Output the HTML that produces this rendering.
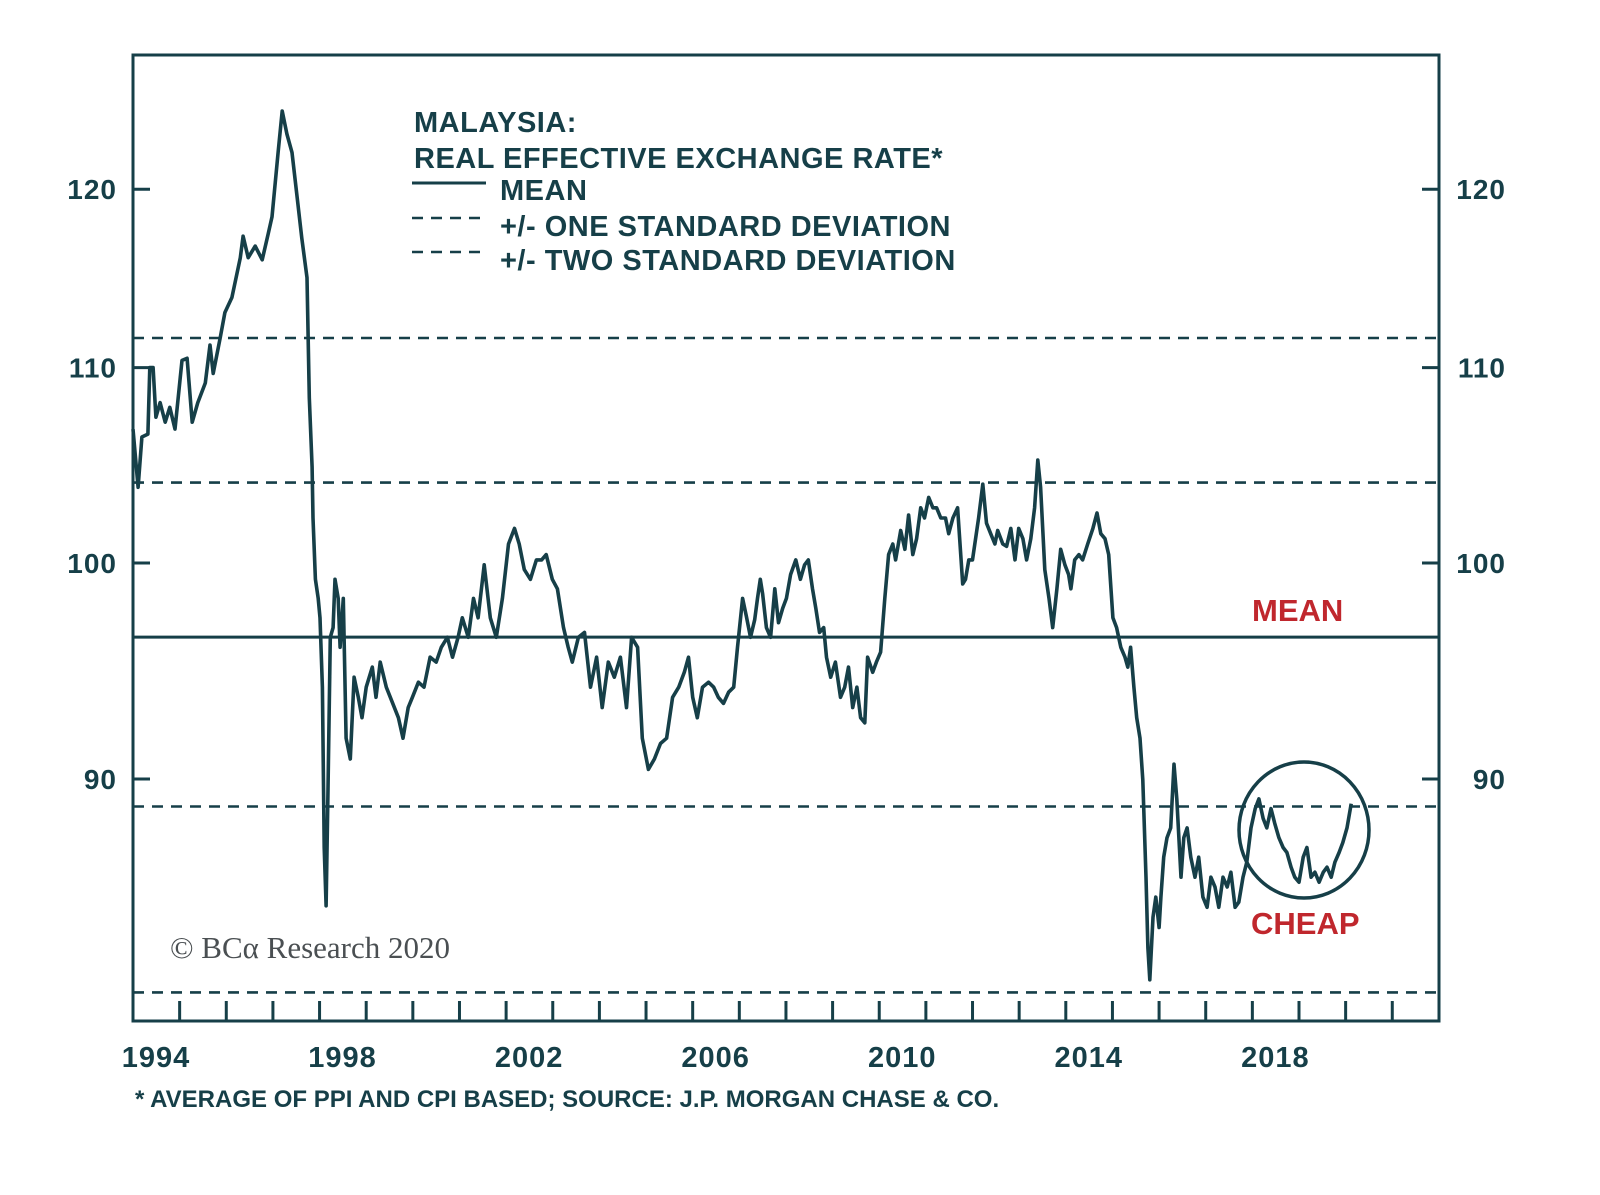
<!DOCTYPE html>
<html><head><meta charset="utf-8"><style>
html,body{margin:0;padding:0;background:#fff;}
svg{display:block;}
</style></head><body>
<svg id="chart" width="1600" height="1195" viewBox="0 0 1600 1195" xmlns="http://www.w3.org/2000/svg">
<g id="grid"></g>
<g id="series"></g>
<g id="axes"></g>
<g font-family="Liberation Sans, sans-serif" font-weight="bold" fill="#163f48" font-size="29" letter-spacing="0.5">
<text x="414" y="132">MALAYSIA:</text>
<text x="414" y="168">REAL EFFECTIVE EXCHANGE RATE*</text>
<line x1="412" x2="486" y1="183" y2="183" stroke="#163f48" stroke-width="3"/>
<text x="500" y="200">MEAN</text>
<line x1="412" x2="486" y1="218" y2="218" stroke="#163f48" stroke-width="2.6" stroke-dasharray="11 8"/>
<text x="500" y="236">+/- ONE STANDARD DEVIATION</text>
<line x1="412" x2="486" y1="252" y2="252" stroke="#163f48" stroke-width="2.6" stroke-dasharray="11 8"/>
<text x="500" y="270">+/- TWO STANDARD DEVIATION</text>
</g>
<text x="1252" y="621" font-family="Liberation Sans, sans-serif" font-weight="bold" font-size="31" fill="#c0272d">MEAN</text>
<text x="1251" y="934" font-family="Liberation Sans, sans-serif" font-weight="bold" font-size="31" fill="#c0272d">CHEAP</text>
<ellipse cx="1304" cy="830" rx="65" ry="68" fill="none" stroke="#163f48" stroke-width="3.5"/>
<text x="170" y="958" font-family="Liberation Serif, serif" font-size="31" fill="#4a4f52">© BCα Research 2020</text>
<text x="135" y="1107" font-family="Liberation Sans, sans-serif" font-weight="bold" font-size="24" fill="#163f48">* AVERAGE OF PPI AND CPI BASED; SOURCE: J.P. MORGAN CHASE &amp; CO.</text>
</svg>
<script>
const years = [1994.00,1994.11,1994.19,1994.32,1994.36,1994.43,1994.49,1994.58,1994.69,1994.79,1994.90,1995.05,1995.16,1995.27,1995.39,1995.55,1995.65,1995.72,1995.87,1995.97,1996.12,1996.30,1996.36,1996.47,1996.62,1996.77,1996.90,1996.98,1997.11,1997.20,1997.30,1997.41,1997.52,1997.62,1997.73,1997.78,1997.84,1997.86,1997.91,1997.97,1998.01,1998.06,1998.10,1998.14,1998.18,1998.23,1998.29,1998.33,1998.40,1998.44,1998.51,1998.57,1998.66,1998.74,1998.83,1998.91,1999.00,1999.13,1999.21,1999.30,1999.43,1999.56,1999.69,1999.79,1999.90,1999.99,2000.12,2000.24,2000.37,2000.50,2000.61,2000.74,2000.85,2000.97,2001.06,2001.19,2001.30,2001.40,2001.53,2001.66,2001.79,2001.92,2002.05,2002.18,2002.28,2002.39,2002.52,2002.65,2002.76,2002.86,2002.99,2003.10,2003.23,2003.33,2003.42,2003.55,2003.68,2003.81,2003.94,2004.06,2004.19,2004.32,2004.45,2004.58,2004.69,2004.82,2004.92,2005.05,2005.18,2005.31,2005.44,2005.57,2005.70,2005.82,2005.91,2006.00,2006.10,2006.21,2006.34,2006.45,2006.55,2006.66,2006.77,2006.88,2006.96,2007.07,2007.15,2007.24,2007.33,2007.39,2007.45,2007.50,2007.58,2007.67,2007.76,2007.84,2007.93,2008.01,2008.10,2008.21,2008.31,2008.40,2008.48,2008.57,2008.64,2008.72,2008.81,2008.87,2008.96,2009.06,2009.17,2009.26,2009.34,2009.43,2009.52,2009.60,2009.69,2009.75,2009.86,2009.94,2010.03,2010.12,2010.20,2010.29,2010.35,2010.46,2010.55,2010.63,2010.72,2010.80,2010.89,2010.97,2011.06,2011.15,2011.23,2011.32,2011.42,2011.49,2011.58,2011.68,2011.79,2011.85,2011.92,2012.00,2012.13,2012.22,2012.30,2012.39,2012.48,2012.54,2012.65,2012.73,2012.82,2012.91,2012.99,2013.08,2013.16,2013.25,2013.33,2013.40,2013.46,2013.55,2013.64,2013.72,2013.81,2013.89,2013.98,2014.06,2014.11,2014.19,2014.28,2014.36,2014.47,2014.58,2014.67,2014.75,2014.84,2014.92,2015.01,2015.09,2015.18,2015.27,2015.33,2015.39,2015.46,2015.52,2015.59,2015.65,2015.72,2015.76,2015.80,2015.87,2015.93,2016.00,2016.04,2016.10,2016.17,2016.25,2016.32,2016.38,2016.47,2016.53,2016.60,2016.68,2016.77,2016.85,2016.94,2017.03,2017.11,2017.20,2017.28,2017.37,2017.46,2017.54,2017.63,2017.71,2017.80,2017.88,2017.97,2018.06,2018.14,2018.23,2018.31,2018.40,2018.48,2018.57,2018.66,2018.74,2018.83,2018.91,2019.00,2019.09,2019.17,2019.26,2019.34,2019.43,2019.52,2019.60,2019.69,2019.77,2019.86,2019.94,2020.03,2020.12];
const reer = [106.75,103.76,106.34,106.49,110.0,110.0,107.37,108.14,107.11,107.89,106.75,110.39,110.5,107.11,108.14,109.18,111.22,109.69,111.61,113.0,113.83,116.06,117.28,116.06,116.72,115.94,117.44,118.39,122.17,124.67,123.28,122.17,119.5,117.17,114.94,108.4,104.79,102.22,99.21,98.29,97.36,94.12,87.04,84.6,89.54,96.44,96.9,99.21,98.29,95.97,98.29,91.81,90.88,94.58,93.66,92.73,94.12,95.05,93.66,95.28,94.12,93.43,92.73,91.81,93.19,93.66,94.35,94.12,95.51,95.28,95.97,96.44,95.51,96.44,97.36,96.44,98.29,97.36,99.91,97.36,96.44,98.29,100.93,101.7,100.93,99.68,99.21,100.15,100.15,100.41,99.21,98.75,96.9,95.97,95.28,96.44,96.67,94.12,95.51,93.19,95.28,94.58,95.51,93.19,96.44,95.97,91.81,90.42,90.88,91.57,91.81,93.66,94.12,94.81,95.51,93.66,92.73,94.12,94.35,94.12,93.66,93.38,93.89,94.12,95.97,98.29,97.45,96.44,97.27,98.29,99.21,98.52,96.9,96.44,98.75,97.13,97.82,98.29,99.44,100.15,99.21,99.91,100.15,98.75,97.82,96.67,96.9,95.51,94.58,95.28,93.66,94.12,95.05,93.19,94.12,92.73,92.5,95.51,94.81,95.28,95.74,98.29,100.41,100.93,100.15,101.6,100.67,102.37,100.41,101.19,102.73,102.22,103.25,102.73,102.73,102.22,102.22,101.44,102.22,102.73,98.98,99.21,100.15,100.15,102.22,103.92,101.96,101.44,100.93,101.6,100.93,100.82,101.7,100.15,101.7,101.19,100.15,101.19,102.73,105.15,103.76,99.68,98.29,96.9,98.75,100.67,99.91,99.44,98.75,100.15,100.41,100.15,100.93,101.7,102.47,101.44,101.19,100.41,97.36,96.9,95.97,95.51,95.05,95.97,94.12,92.73,91.81,89.96,85.79,82.88,81.6,84.13,84.96,83.71,84.96,86.63,87.46,87.88,90.65,89.13,85.79,87.46,87.88,86.63,85.79,86.63,84.96,84.54,85.79,85.38,84.54,85.79,85.38,86.0,84.54,84.75,85.79,86.42,87.88,88.71,89.13,88.29,87.88,88.71,88.08,87.46,87.04,86.83,86.21,85.79,85.58,86.63,87.04,85.79,86.0,85.58,86.0,86.21,85.79,86.42,86.83,87.25,87.88,88.92];
const refValues = [111.6, 104.0, 96.45, 88.8, 81.1];
const refNames = ['plus-two-sd-line','plus-one-sd-line','mean-line','minus-one-sd-line','minus-two-sd-line'];
const yTicks = [90, 100, 110, 120];
const xLabels = [1994, 1998, 2002, 2006, 2010, 2014, 2018];

const NS='http://www.w3.org/2000/svg', C='#163f48';
const L=133,R=1439,T=55,B=1021;
const xs = yr => L + (yr-1994)*46.64;
const ys = v => 563 - 2050*Math.log(v/100);
function mk(tag, attrs, parent, txt){const e=document.createElementNS(NS,tag);for(const k in attrs)e.setAttribute(k,attrs[k]);if(txt!==undefined)e.textContent=txt;parent.appendChild(e);return e;}
const grid=document.getElementById('grid'), ser=document.getElementById('series'), ax=document.getElementById('axes');

refValues.forEach((v,i)=>{
  const l=mk('line',{x1:L,x2:R,y1:ys(v),y2:ys(v),stroke:C,'stroke-width':i===2?3:2.6,'stroke-dasharray':i===2?'none':'11 8'},grid);
  
  
});

let d='';
years.forEach((yr,i)=>{d+=(i?'L':'M')+xs(yr).toFixed(1)+' '+ys(reer[i]).toFixed(1);});
const p=mk('path',{d:d,fill:'none',stroke:C,'stroke-width':3.6,'stroke-linejoin':'round'},ser);



const fr=mk('rect',{x:L,y:T,width:R-L,height:B-T,fill:'none',stroke:C,'stroke-width':3},ax);



yTicks.forEach(v=>{
  const y=ys(v);
  mk('line',{x1:L,x2:L+17,y1:y,y2:y,stroke:C,'stroke-width':3},ax);
  mk('line',{x1:R-17,x2:R,y1:y,y2:y,stroke:C,'stroke-width':3},ax);
  const a=mk('text',{x:117,y:y+10,'text-anchor':'end','font-family':'Liberation Sans, sans-serif','font-weight':'bold','font-size':28,'letter-spacing':1,fill:C},ax,String(v));
  
  
  const b=mk('text',{x:1506,y:y+10,'text-anchor':'end','font-family':'Liberation Sans, sans-serif','font-weight':'bold','font-size':28,'letter-spacing':1,fill:C},ax,String(v));
  
  
});
for(let yr=1995; yr<2022; yr++){
  mk('line',{x1:xs(yr),x2:xs(yr),y1:B,y2:B-20,stroke:C,'stroke-width':3},ax);
}
xLabels.forEach(yr=>{
  const t=mk('text',{x:xs(yr)+23,y:1067,'text-anchor':'middle','font-family':'Liberation Sans, sans-serif','font-weight':'bold','font-size':29,'letter-spacing':1,fill:C},ax,String(yr));
  
  
});
</script>
</body></html>
